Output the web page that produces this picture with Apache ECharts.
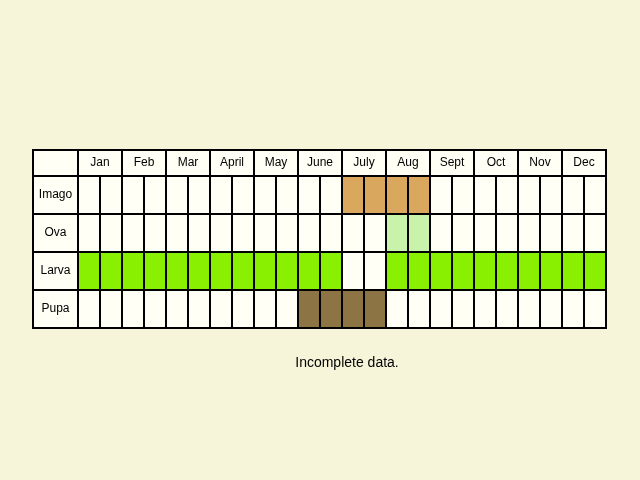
<!DOCTYPE html>
<html>
<head>
  <meta charset="UTF-8">
  <script src="https://cdn.jsdelivr.net/npm/echarts@6/dist/echarts.min.js"></script>
  <style>
    html, body { margin: 0; background: #f7f5d9; }
    #main { width: 640px; height: 480px; }
  </style>
</head>
<body>
<div id="main"></div>
<script>
  var months = ['Jan', 'Feb', 'Mar', 'April', 'May', 'June', 'July', 'Aug', 'Sept', 'Oct', 'Nov', 'Dec'];
  var stages = ['Imago', 'Ova', 'Larva', 'Pupa'];
  var stageColors = ['#d9a75e', '#c9f2aa', '#88f000', '#8c7445'];
  // one value per half month, 1 = present
  var imago = [0,0,0,0,0,0,0,0,0,0,0,0,1,1,1,1,0,0,0,0,0,0,0,0];
  var ova   = [0,0,0,0,0,0,0,0,0,0,0,0,0,0,1,1,0,0,0,0,0,0,0,0];
  var larva = [1,1,1,1,1,1,1,1,1,1,1,1,0,0,1,1,1,1,1,1,1,1,1,1];
  var pupa  = [0,0,0,0,0,0,0,0,0,0,1,1,1,1,0,0,0,0,0,0,0,0,0,0];
  var rowsData = [imago, ova, larva, pupa];

  var HEAD = 26, ROW = 38, LABEL = -45 / 22;
  var cells = [];
  // kind 0: corner, 1: month header, 2: stage label, 3: data cell
  cells.push([LABEL, 0, 0, HEAD, 0, '', -1]);
  months.forEach(function (m, i) { cells.push([i * 2, 0, i * 2 + 2, HEAD, 1, m, -1]); });
  stages.forEach(function (s, r) {
    var y0 = HEAD + r * ROW;
    cells.push([LABEL, y0, 0, y0 + ROW, 2, s, -1]);
    rowsData[r].forEach(function (v, c) {
      cells.push([c, y0, c + 1, y0 + ROW, 3, '', v ? r : -1]);
    });
  });

  var chart = echarts.init(document.getElementById('main'));
  chart.setOption({
    backgroundColor: '#f7f5d9',
    animation: false,
    title: {
      text: 'Incomplete data.', left: 342, top: 351, textAlign: 'center',
      textStyle: { fontFamily: 'Liberation Sans', fontSize: 14, fontWeight: 'normal', color: '#000' }
    },
    grid: { left: 33, right: 34, top: 150, bottom: 152 },
    xAxis: { type: 'value', min: LABEL, max: 24, show: false },
    yAxis: { type: 'value', min: 0, max: HEAD + 4 * ROW, inverse: true, show: false },
    series: [{
      type: 'custom',
      data: cells,
      renderItem: function (params, api) {
        var p0 = api.coord([api.value(0), api.value(1)]);
        var p1 = api.coord([api.value(2), api.value(3)]);
        var kind = api.value(4);
        var st = api.value(6);
        var fill = st >= 0 ? stageColors[st] : '#fffff5';
        var children = [{
          type: 'rect',
          shape: { x: p0[0], y: p0[1], width: p1[0] - p0[0], height: p1[1] - p0[1] },
          style: { fill: fill, stroke: '#000', lineWidth: 2 }
        }];
        var txt = cells[params.dataIndex][5];
        if (txt) {
          children.push({
            type: 'text',
            style: {
              text: txt, x: (p0[0] + p1[0]) / 2, y: (p0[1] + p1[1]) / 2,
              align: 'center', verticalAlign: 'middle',
              font: '12px "Liberation Sans"', fill: '#000'
            }
          });
        }
        return { type: 'group', children: children };
      }
    }]
  });
</script>
</body>
</html>
